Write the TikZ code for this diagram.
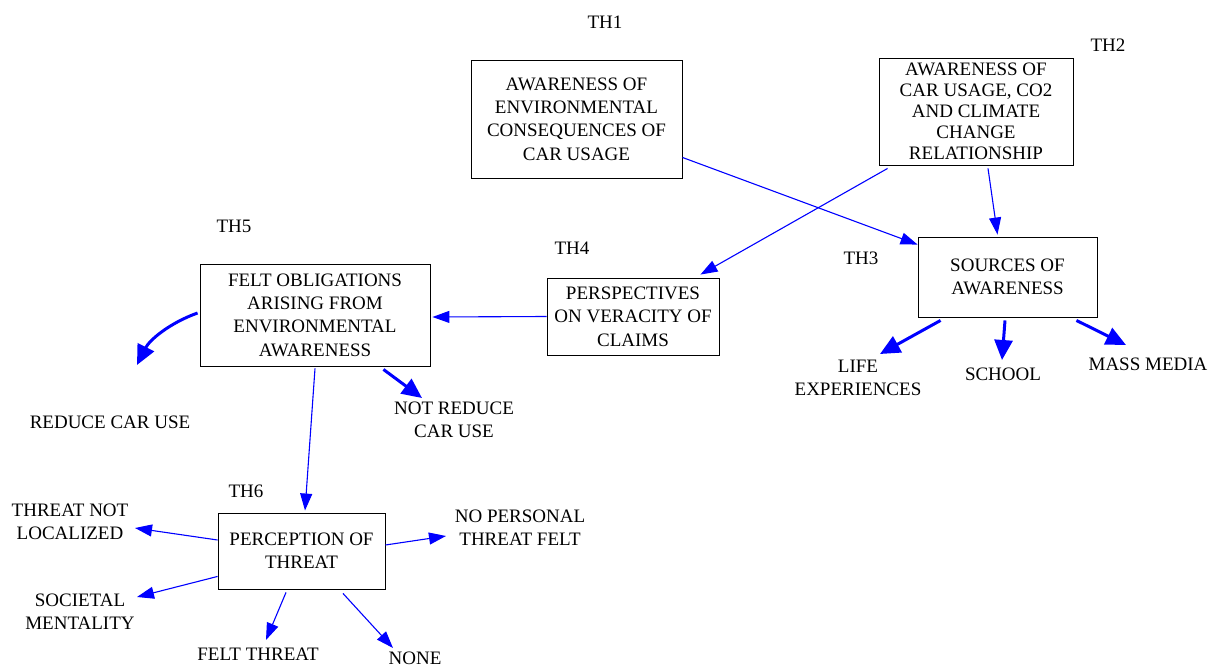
\documentclass[tikz,border=0pt]{standalone}
\usepackage{fontspec}
\setmainfont{Liberation Serif}
\usetikzlibrary{arrows.meta,calc}
\definecolor{arrblue}{RGB}{0,0,255}
\tikzset{
  box/.style={draw=black,line width=0.9pt,inner sep=0pt,align=center,fill=white},
  txt/.style={inner sep=0pt,align=center},
  thin/.style={draw=arrblue,line width=1.1pt,-{Triangle[length=17pt,width=12pt]}},
  thick/.style={draw=arrblue,line width=3pt,-{Triangle[length=20pt,width=18pt]}},
}
\begin{document}
\begin{tikzpicture}[x=1pt,y=-1pt,font=\fontsize{19}{23.4}\selectfont]
\useasboundingbox (0,0) rectangle (1211,666);
% labels
\node[txt] (l1) at (605,22) {TH1};
\node[txt] (l2) at (1108,45) {TH2};
\node[txt] (l3) at (861,258) {TH3};
\node[txt] (l4) at (572,248) {TH4};
\node[txt] (l5) at (234,226) {TH5};
\node[txt] (l6) at (246,491) {TH6};
% boxes
\node[box,minimum width=211pt,minimum height=118pt] (th1) at (576.5,119) {AWARENESS OF\\ENVIRONMENTAL\\CONSEQUENCES OF\\CAR USAGE};
\node[box,minimum width=194pt,minimum height=107pt,font=\fontsize{19}{21}\selectfont] (th2) at (976,111.5) {AWARENESS OF\\CAR USAGE, CO2\\AND CLIMATE\\CHANGE\\RELATIONSHIP};
\node[box,minimum width=179pt,minimum height=80pt] (th3) at (1007.5,277) {SOURCES OF\\AWARENESS};
\node[box,minimum width=172pt,minimum height=77pt] (th4) at (633,316.5) {PERSPECTIVES\\ON VERACITY OF\\CLAIMS};
\node[box,minimum width=230pt,minimum height=102pt] (th5) at (315,315) {FELT OBLIGATIONS\\ARISING FROM\\ENVIRONMENTAL\\AWARENESS};
\node[box,minimum width=167pt,minimum height=76pt] (th6) at (301.5,551) {PERCEPTION OF\\THREAT};
% leaves
\node[txt] (life) at (858,378) {LIFE\\EXPERIENCES};
\node[txt] (school) at (1003,374) {SCHOOL};
\node[txt] (mass) at (1148,364) {MASS MEDIA};
\node[txt] (reduce) at (110,422) {REDUCE CAR USE};
\node[txt] (notreduce) at (454,420) {NOT REDUCE\\CAR USE};
\node[txt] (threatnot) at (70,522) {THREAT NOT\\LOCALIZED};
\node[txt] (nopersonal) at (520,528) {NO PERSONAL\\THREAT FELT};
\node[txt] (societal) at (80,612) {SOCIETAL\\MENTALITY};
\node[txt] (felt) at (258,654) {FELT THREAT};
\node[txt] (none) at (415,658) {NONE};
% connectors between boxes
\draw[thin] ($(th1.south east)+(0,-21)$) -- ($(th3.north west)+(0,8)$);
\draw[thin] ($(th2.south west)+(9,3)$) -- ($(th4.north east)+(-19,-3)$);
\draw[thin] ($(th2.south)+(12,3)$) -- ($(th3.north)+(-10,-2)$);
\draw[thin] (th4.west) -- ($(th5.east)+(2,2)$);
\draw[thin] ($(th5.south)+(0,2)$) -- ($(th6.north)+(3.5,-2)$);
% TH3 leaves
\draw[thick] ($(th3.south west)+(23,3)$) -- ($(life)+(22,-24)$);
\draw[thick] ($(th3.south)+(-2.5,3)$) -- ($(school)+(-1,-14)$);
\draw[thick] ($(th3.south east)+(-21,3)$) -- ($(mass)+(-22,-19)$);
% TH5 leaves
\draw[thick] ($(th5.west)+(-2,-2)$) .. controls ($(th5.west)+(-30,8)$) and ($(th5.west)+(-50,25)$) .. ($(reduce)+(27,-57)$);
\draw[thick] ($(th5.south east)+(-47,3)$) -- ($(notreduce)+(-32,-22)$);
% TH6 leaves
\draw[thin] ($(th6.west)+(0,-11)$) -- ($(threatnot)+(65,6)$);
\draw[thin] ($(th6.south west)+(0,-13)$) -- ($(societal)+(57,-15)$);
\draw[thin] ($(th6.south)+(-15.5,3)$) -- ($(felt)+(8,-14)$);
\draw[thin] ($(th6.south)+(41.5,4)$) -- ($(none)+(-22,-10)$);
\draw[thin] ($(th6.east)+(0,-6)$) -- ($(nopersonal)+(-74,8)$);
\end{tikzpicture}
\end{document}
